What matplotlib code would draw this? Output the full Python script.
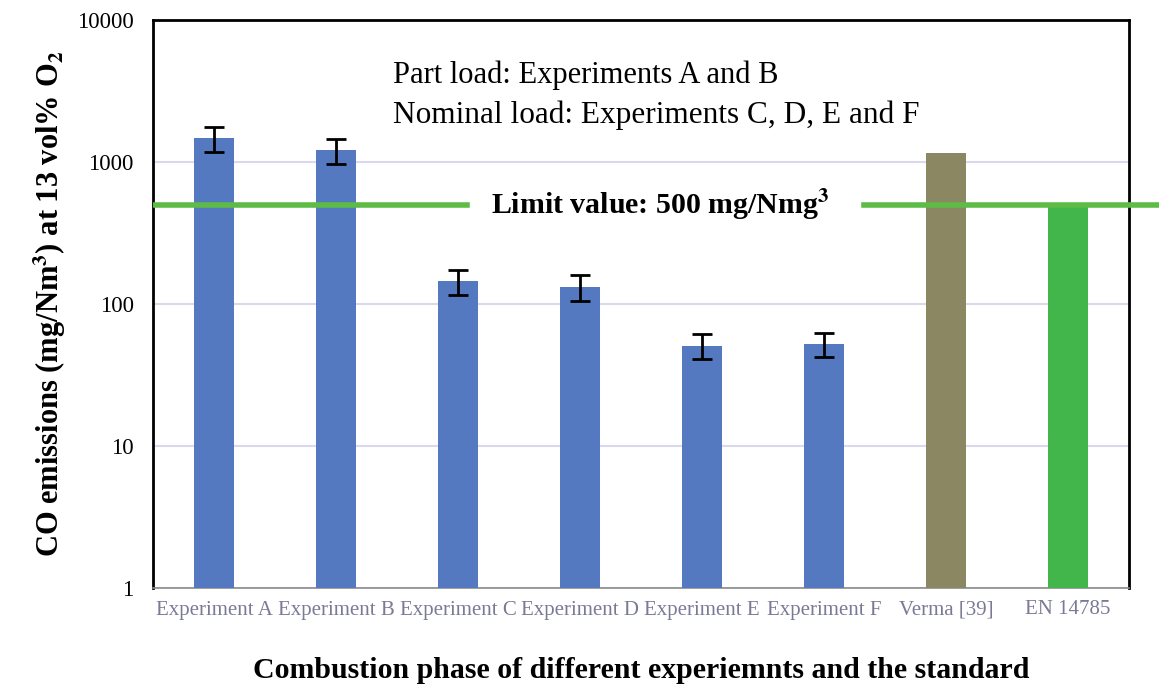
import numpy as np
import matplotlib.pyplot as plt

# CO emissions per combustion test, mg/Nm3 at 13 vol% O2
categories = ["Experiment A", "Experiment B", "Experiment C", "Experiment D",
              "Experiment E", "Experiment F", "Verma [39]", "EN 14785"]
co_values = [1470, 1210, 145, 132, 51, 52, 1160, 500]
co_errors = [290, 240, 29, 27, 10, 10, 0, 0]
has_error = [True, True, True, True, True, True, False, False]
bar_colors = ["#5479C1"] * 6 + ["#8C8763", "#42B64A"]
limit_value = 500

plt.rcParams["font.family"] = ["Liberation Serif", "DejaVu Serif"]
plt.rcParams["mathtext.fontset"] = "stix"

fig = plt.figure(figsize=(11.59, 6.88), dpi=100)
ax = fig.add_axes([153 / 1159, 100 / 688, 976 / 1159, 568 / 688])

x = np.arange(len(categories))
ax.bar(x, co_values, width=0.32, color=bar_colors, zorder=3)

mask = np.array(has_error)
ax.errorbar(x[mask], np.array(co_values)[mask], yerr=np.array(co_errors)[mask],
            fmt="none", ecolor="black", elinewidth=2, capsize=7, capthick=2,
            zorder=4)

ax.set_yscale("log")
ax.set_ylim(1, 10000)
ax.set_xlim(-0.5, len(categories) - 0.5)
ax.set_yticks([1, 10, 100, 1000, 10000])
ax.set_yticklabels(["1", "10", "100", "1000", "10000"])
ax.minorticks_off()
ax.yaxis.grid(True, color="#D9D9EE", linewidth=1.5, zorder=0)

ax.set_xticks(x)
ax.set_xticklabels(categories, fontsize=15, color="#7A7A96")
ax.tick_params(axis="both", length=0)
ax.tick_params(axis="y", labelsize=16.5, pad=14)
ax.tick_params(axis="x", pad=9)

for side in ["left", "top", "right"]:
    ax.spines[side].set_linewidth(2)
    ax.spines[side].set_color("black")
ax.spines["bottom"].set_color("#8C8C8C")
ax.spines["bottom"].set_linewidth(1.2)

# emission limit line with a gap for its label
ax.axhline(limit_value, xmin=0, xmax=0.322, color="#5DBB46", linewidth=4, zorder=5)
ax.axhline(limit_value, xmin=0.728, xmax=1.03, color="#5DBB46", linewidth=4,
           zorder=5, clip_on=False)
ax.text(0.52, limit_value, "Limit value: 500 mg/Nmg$^{\\mathbf{3}}$",
        transform=ax.get_yaxis_transform(), ha="center", va="center",
        fontsize=21.5, fontweight="bold", zorder=6)

ax.text(0.246, 0.902, "Part load: Experiments A and B",
        transform=ax.transAxes, fontsize=22, va="center")
ax.text(0.246, 0.832, "Nominal load: Experiments C, D, E and F",
        transform=ax.transAxes, fontsize=22.5, va="center")

ax.set_ylabel("CO emissions (mg/Nm$^{\\mathbf{3}}$) at 13 vol% O$_{\\mathbf{2}}$",
              fontsize=22, fontweight="bold", labelpad=6)
ax.set_xlabel("Combustion phase of different experiemnts and the standard",
              fontsize=21.5, fontweight="bold", labelpad=27)

fig.savefig("out.png", dpi=100, facecolor="white")
